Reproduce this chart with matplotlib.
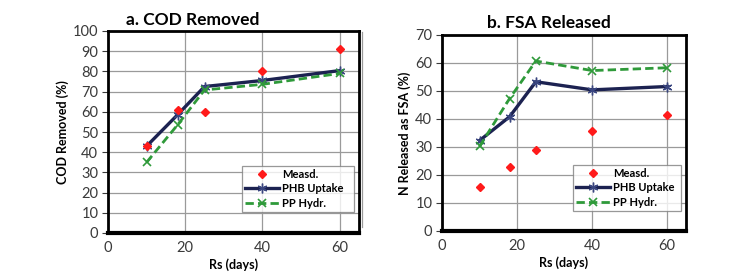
import matplotlib

matplotlib.use("Agg")

import matplotlib.pyplot as plt
from matplotlib.lines import Line2D

plt.rcParams["font.family"] = ["Lato", "DejaVu Sans"]

rs_days = [10, 18, 25, 40, 60]

cod_measured = [43, 61, 60, 80, 91]
cod_phb_uptake = [43, 58.5, 72.5, 75.5, 80.4]
cod_pp_hydr = [35, 53.5, 70.8, 73.6, 79]

fsa_measured = [15.8, 22.8, 29, 35.6, 41.5]
fsa_phb_uptake = [32.3, 40.8, 53.3, 50.4, 51.6]
fsa_pp_hydr = [30.2, 47.3, 60.7, 57.3, 58.3]

x_ticks = [0, 20, 40, 60]
cod_y_ticks = list(range(0, 101, 10))
fsa_y_ticks = list(range(0, 71, 10))

RED = "#ff1a1a"
NAVY = "#1c2251"
GREEN = "#2f9a3a"
TICK_COLOR = "#3a3a3a"


def draw_panel(ax, measured, phb, pp, y_ticks, y_label, legend_box):
    ax.plot(rs_days, measured, linestyle="none", marker="D", markersize=4.2,
            color=RED, label="Measd.", zorder=4)
    ax.plot(rs_days, phb, color=NAVY, linewidth=2.4, marker=(6, 2, 0),
            markersize=7, markeredgewidth=1.0, markeredgecolor="#3a4680",
            label="PHB Uptake", zorder=3)
    ax.plot(rs_days, pp, color=GREEN, linewidth=2.0, linestyle=(0, (3, 1.5)),
            marker="x", markersize=6, markeredgewidth=1.2,
            label="PP Hydr.", zorder=3)

    ax.set_xlim(0, 65)
    ax.set_ylim(y_ticks[0], y_ticks[-1])
    ax.set_xticks(x_ticks)
    ax.set_yticks(y_ticks)
    ax.grid(True, color="#9a9a9a", linewidth=0.9)
    ax.set_axisbelow(True)
    ax.tick_params(axis="both", labelsize=10.5, colors=TICK_COLOR, length=4,
                   width=0.8, direction="out", pad=3)
    ax.tick_params(axis="x", length=0, pad=6)
    for side, spine in ax.spines.items():
        spine.set_color("black")
        spine.set_linewidth(3.0 if side == "bottom" else 2.0)
    ax.set_xlabel("Rs (days)", fontsize=9, fontweight="bold", labelpad=2)
    ax.set_ylabel(y_label, fontsize=9, fontweight="bold", labelpad=3)

    legend = ax.legend(loc="lower left", bbox_to_anchor=legend_box,
                       bbox_transform=ax.figure.transFigure, mode="expand",
                       fontsize=8, frameon=True, fancybox=False,
                       borderpad=0.3, labelspacing=0.3, handlelength=3.0,
                       handletextpad=0.3, borderaxespad=0)
    frame = legend.get_frame()
    frame.set_edgecolor("#7f7f7f")
    frame.set_linewidth(0.9)
    for text in legend.get_texts():
        text.set_fontweight("bold")


fig = plt.figure(figsize=(7.29, 2.79), dpi=100)
W, H = 729, 279

ax_a = fig.add_axes([108 / W, (H - 233) / H, 251 / W, 202 / H])
draw_panel(ax_a, cod_measured, cod_phb_uptake, cod_pp_hydr, cod_y_ticks,
           "COD Removed (%)",
           (242 / W, (H - 212) / H, 112 / W, 45 / H))

ax_b = fig.add_axes([442 / W, (H - 231) / H, 244 / W, 196 / H])
draw_panel(ax_b, fsa_measured, fsa_phb_uptake, fsa_pp_hydr, fsa_y_ticks,
           "N Released as FSA (%)",
           (573 / W, (H - 211) / H, 108 / W, 41 / H))

fig.text(193 / W, 1 - 20 / H, "a. COD Removed", ha="center", va="center",
         fontsize=12.5, fontweight="bold")
fig.text(549 / W, 1 - 23 / H, "b. FSA Released", ha="center", va="center",
         fontsize=12.5, fontweight="bold")

fig.add_artist(Line2D([362 / W, 362 / W], [1 - 227 / H, 1 - 32 / H],
                      color="#9a9a9a", linewidth=0.9))

fig.savefig("out.png", dpi=100)
